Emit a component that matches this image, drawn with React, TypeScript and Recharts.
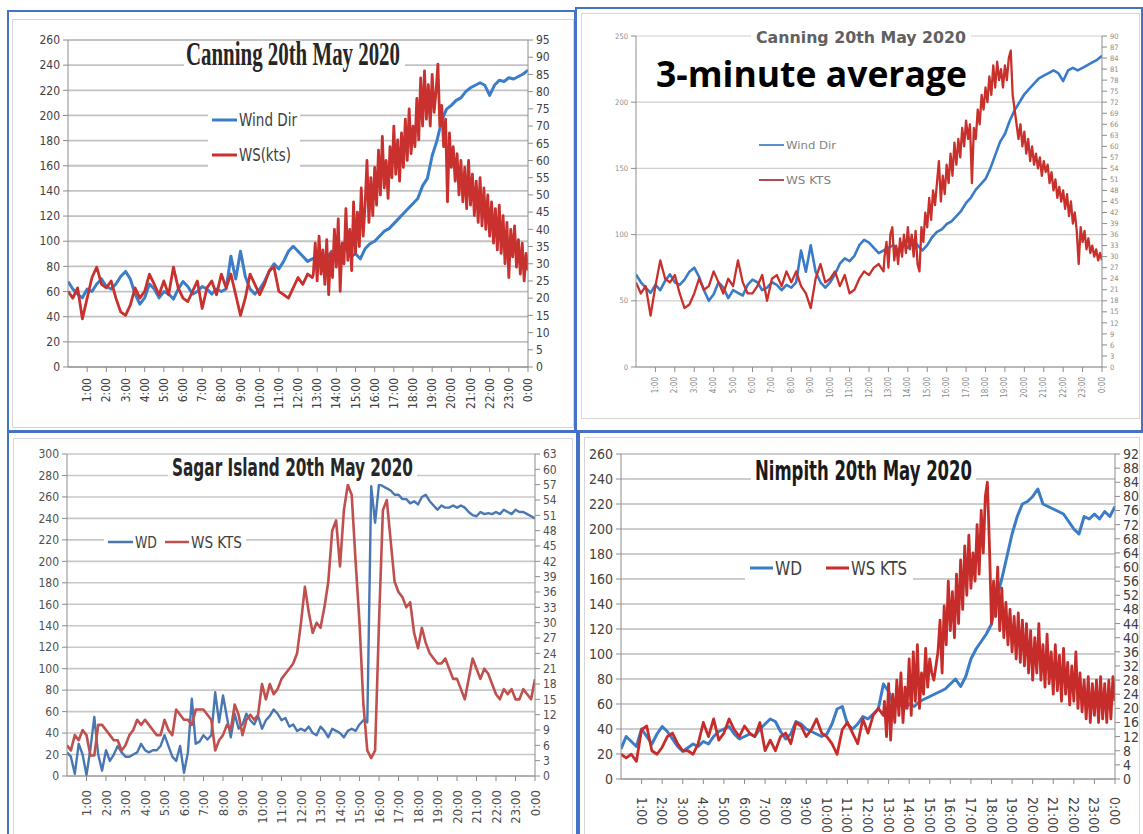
import React from 'react'
import { LineChart, Line, XAxis, YAxis, CartesianGrid } from 'recharts'

// hour ticks shared by the four charts (24 -> 0:00 next day)
const hourTicks = [1, 2, 3, 4, 5, 6, 7, 8, 9, 10, 11, 12, 13, 14, 15, 16, 17, 18, 19, 20, 21, 22, 23, 24]
const hourLabels = ['1:00', '2:00', '3:00', '4:00', '5:00', '6:00', '7:00', '8:00', '9:00', '10:00', '11:00', '12:00',
  '13:00', '14:00', '15:00', '16:00', '17:00', '18:00', '19:00', '20:00', '21:00', '22:00', '23:00', '0:00']

const canningLeftTicks = [0, 20, 40, 60, 80, 100, 120, 140, 160, 180, 200, 220, 240, 260]
const canningRightTicks = [0, 5, 10, 15, 20, 25, 30, 35, 40, 45, 50, 55, 60, 65, 70, 75, 80, 85, 90, 95]
const avgLeftTicks = [0, 50, 100, 150, 200, 250]
const avgRightTicks = [0, 3, 6, 9, 12, 15, 18, 21, 24, 27, 30, 33, 36, 39, 42, 45, 48, 51, 54, 57, 60, 63, 66, 69, 72, 75, 78, 81, 84, 87, 90]
const sagarLeftTicks = [0, 20, 40, 60, 80, 100, 120, 140, 160, 180, 200, 220, 240, 260, 280, 300]
const sagarRightTicks = [0, 3, 6, 9, 12, 15, 18, 21, 24, 27, 30, 33, 36, 39, 42, 45, 48, 51, 54, 57, 60, 63]
const nimpithLeftTicks = [0, 20, 40, 60, 80, 100, 120, 140, 160, 180, 200, 220, 240, 260]
const nimpithRightTicks = [0, 4, 8, 12, 16, 20, 24, 28, 32, 36, 40, 44, 48, 52, 56, 60, 64, 68, 72, 76, 80, 84, 88, 92]

// Canning - wind direction, every 15 min from 0:00 to 24:00
const canningWd = [68, 62, 58, 55, 62, 60, 66, 70, 64, 62, 66, 72, 76, 70, 58, 50, 55, 66, 62, 55,
  60, 58, 54, 62, 68, 64, 58, 60, 64, 62, 58, 62, 60, 62, 88, 70, 92, 72, 62, 58,
  62, 68, 76, 82, 78, 84, 92, 96, 92, 88, 84, 86, 88, 90, 86, 92, 90, 96, 94, 88,
  90, 86, 94, 98, 100, 104, 108, 110, 114, 118, 122, 126, 130, 134, 144, 150, 168, 180, 196, 205,
  208, 212, 214, 219, 222, 224, 226, 224, 216, 224, 228, 227, 230, 229, 231, 233, 236]
// Canning - wind speed (kts), 15 min to 12:45, then ~6 min to 24:00
const canningWsAm = [22, 20, 23, 14, 20, 26, 29, 24, 23, 25, 20, 16, 15, 18, 23, 20, 22, 27, 24, 21,
  25, 21, 29, 23, 20, 19, 22, 25, 17, 23, 25, 21, 27, 23, 27, 21, 15, 20, 27, 24,
  21, 24, 28, 29, 22, 21, 20, 23, 26, 24, 27, 26]
const canningWsPm = [27, 36, 25, 38, 27, 34, 24, 37, 21, 33, 26, 40, 29, 43, 22, 36, 30, 46, 31, 40,
  28, 48, 33, 45, 35, 52, 38, 47, 60, 42, 55, 44, 58, 47, 63, 50, 67, 52, 60, 49,
  64, 55, 70, 56, 66, 54, 68, 58, 72, 60, 75, 62, 70, 64, 78, 66, 84, 70, 86, 72,
  82, 70, 85, 74, 80, 88, 70, 76, 64, 72, 48, 68, 58, 64, 54, 62, 50, 60, 48, 58,
  46, 60, 47, 56, 44, 54, 42, 55, 41, 52, 40, 50, 38, 48, 36, 46, 34, 47, 33, 44,
  30, 42, 26, 40, 32, 41, 29, 37, 27, 36, 25, 33, 28]

// Canning 3-minute average
const avgWd = [70, 64, 60, 56, 62, 58, 65, 70, 64, 62, 66, 72, 75, 68, 58, 50, 55, 64, 60, 52,
  58, 56, 54, 62, 66, 64, 58, 60, 64, 62, 58, 62, 60, 64, 88, 72, 92, 72, 64, 60,
  64, 70, 78, 82, 80, 84, 92, 96, 94, 90, 86, 88, 90, 92, 88, 94, 90, 96, 92, 88,
  92, 98, 102, 104, 108, 110, 114, 118, 124, 128, 134, 138, 142, 150, 160, 170, 176, 186, 194, 200,
  206, 210, 214, 218, 220, 222, 224, 222, 216, 224, 226, 224, 226, 228, 230, 232, 235]
const avgWsAm = [23, 20, 22, 14, 22, 29, 24, 23, 25, 20, 16, 17, 20, 24, 21, 22, 26, 23, 20, 24,
  22, 29, 23, 20, 20, 22, 25, 18, 24, 25, 22, 26, 23, 26, 22, 20, 16, 24, 28, 23,
  24, 26, 22, 25, 20, 21, 24, 26, 25, 27, 28, 26]
const avgWsPm = [30, 34, 27, 36, 38, 29, 33, 28, 35, 30, 36, 31, 38, 32, 36, 30, 37, 28, 26, 38,
  34, 42, 38, 46, 40, 48, 44, 50, 56, 45, 52, 47, 55, 50, 58, 52, 61, 55, 62, 57,
  65, 60, 67, 62, 66, 50, 65, 62, 70, 66, 74, 70, 76, 72, 79, 74, 82, 76, 83, 78,
  81, 76, 82, 78, 84, 86, 74, 70, 66, 62, 66, 60, 64, 58, 62, 56, 60, 55, 58, 54,
  57, 52, 56, 53, 55, 50, 53, 48, 51, 46, 49, 45, 48, 43, 47, 41, 45, 39, 42, 37,
  28, 38, 34, 37, 32, 35, 31, 33, 30, 32, 29, 31, 29]

// Sagar Island - every 12 min from 0:00 to 24:00
const sagarWd = [22, 18, 2, 30, 20, 1, 25, 55, 20, 5, 24, 14, 20, 28, 22, 18, 18, 20, 22, 30,
  24, 22, 24, 24, 28, 38, 28, 18, 14, 28, 3, 22, 72, 30, 32, 38, 34, 38, 78, 50,
  75, 55, 36, 58, 44, 48, 58, 52, 48, 56, 44, 52, 56, 62, 58, 52, 54, 46, 48, 42,
  44, 42, 46, 40, 38, 46, 42, 36, 44, 42, 40, 36, 42, 44, 42, 48, 52, 50, 270, 236,
  272, 270, 268, 266, 262, 262, 258, 258, 254, 256, 253, 260, 262, 256, 252, 248, 252, 250, 250, 252,
  250, 252, 250, 246, 243, 242, 246, 244, 245, 244, 246, 244, 248, 246, 244, 248, 246, 246, 244, 242, 240]
const sagarWs = [6, 5, 8, 7, 9, 8, 4, 4, 10, 10, 9, 8, 7, 7, 5, 6, 8, 9, 11, 10,
  11, 10, 9, 8, 8, 11, 9, 8, 13, 12, 11, 11, 10, 13, 13, 13, 12, 11, 5, 7,
  8, 10, 9, 14, 12, 8, 11, 12, 11, 12, 18, 15, 18, 16, 17, 19, 20, 21, 22, 24,
  30, 37, 32, 28, 30, 29, 33, 38, 48, 50, 41, 52, 57, 55, 42, 30, 14, 5, 3.5, 5,
  30, 52, 54, 46, 38, 36, 35, 33, 34, 28, 25, 29, 26, 24, 23, 22, 22, 23, 21, 19,
  19, 17, 15, 19, 23, 21, 19, 21, 20, 18, 16, 15, 17, 16, 17, 15, 15, 17, 16, 15, 19]

// Nimpith
const nimpithWd = [24, 34, 30, 26, 40, 34, 28, 36, 42, 38, 32, 26, 22, 25, 28, 26, 30, 28, 34, 38,
  40, 42, 36, 32, 34, 36, 34, 40, 44, 48, 46, 38, 32, 36, 46, 44, 40, 38, 36, 34,
  36, 44, 56, 58, 44, 40, 44, 50, 48, 52, 56, 76, 70, 58, 62, 56, 60, 58, 62, 64,
  66, 68, 70, 72, 76, 80, 74, 82, 96, 104, 110, 116, 124, 145, 160, 178, 196, 210, 220, 222,
  226, 232, 220, 218, 216, 214, 212, 206, 200, 196, 210, 208, 212, 208, 214, 210, 218]
const nimpithWsAm = [7, 6, 7, 5, 14, 15, 8, 7, 9, 12, 13, 10, 8, 8, 7, 10, 16, 12, 17, 11,
  13, 17, 14, 12, 15, 13, 12, 16, 8, 11, 8, 12, 13, 10, 16, 15, 12, 14, 17, 13,
  12, 10, 7, 14, 16, 13, 10, 17, 13, 18, 20, 18]
const nimpithWsPm = [22, 12, 27, 11, 24, 16, 28, 18, 30, 16, 26, 20, 34, 18, 36, 22, 38, 20, 30, 24,
  37, 26, 34, 30, 28, 32, 36, 45, 30, 49, 38, 56, 42, 53, 40, 58, 44, 62, 48, 66,
  52, 69, 54, 64, 56, 72, 58, 76, 64, 80, 84, 66, 44, 56, 46, 60, 42, 54, 40, 50,
  38, 48, 36, 46, 34, 47, 33, 45, 32, 44, 30, 42, 28, 40, 30, 44, 28, 38, 26, 41,
  27, 36, 24, 38, 25, 35, 22, 37, 24, 33, 21, 32, 22, 36, 20, 30, 19, 28, 17, 29,
  16, 27, 18, 28, 16, 29, 17, 27, 16, 28, 17, 29, 22]

// spread a run of readings evenly between two clock times (hours)
const spread = (from: number, to: number, vals: number[]) =>
  vals.map((v, i) => ({ t: from + ((to - from) * i) / (vals.length - 1), v }))

const narrow = "'Liberation Sans Narrow', 'DejaVu Sans Condensed', 'Liberation Sans', sans-serif"

const panels = [
  {
    key: 'canning',
    box: { left: 10, top: 12, width: 562, height: 416 },
    plot: { left: 68, top: 40, right: 528, bottom: 367 },
    leftW: 44, rightW: 40, xH: 55,
    leftTicks: canningLeftTicks, rightTicks: canningRightTicks,
    wd: spread(0, 24, canningWd),
    ws: [...spread(0, 12.75, canningWsAm), ...spread(12.8, 24, canningWsPm)],
    blue: '#3b7dc8', red: '#c8312d', blueW: 3, redW: 2.8,
    tickSize: 12, tickFill: '#404040', xAngle: -90, xDy: 4, xSize: 12,
    grid: '#c2c2c2', gridW: 1.8,
  },
  {
    key: 'avg',
    box: { left: 580, top: 12, width: 560, height: 416 },
    plot: { left: 636, top: 36, right: 1102, bottom: 367 },
    leftW: 40, rightW: 32, xH: 55,
    leftTicks: avgLeftTicks, rightTicks: avgRightTicks,
    wd: spread(0, 24, avgWd),
    ws: [...spread(0, 12.75, avgWsAm), ...spread(12.8, 24, avgWsPm)],
    blue: '#3a7bc8', red: '#c8302c', blueW: 2.6, redW: 2.3,
    tickSize: 7.5, tickFill: '#8c8c8c', xAngle: -90, xDy: 3, xSize: 8,
    grid: '#cfcfcf', gridW: 1.2,
  },
  {
    key: 'sagar',
    box: { left: 12, top: 440, width: 562, height: 392 },
    plot: { left: 67, top: 454, right: 535, bottom: 776 },
    leftW: 44, rightW: 34, xH: 50,
    leftTicks: sagarLeftTicks, rightTicks: sagarRightTicks,
    wd: spread(0, 24, sagarWd),
    ws: spread(0, 24, sagarWs),
    blue: '#4877b3', red: '#c0504d', blueW: 2.4, redW: 2.6,
    tickSize: 12, tickFill: '#505050', xAngle: -90, xDy: 7, xSize: 13,
    grid: '#c8c8c8', gridW: 1.6,
  },
  {
    key: 'nimpith',
    box: { left: 582, top: 440, width: 558, height: 392 },
    plot: { left: 621, top: 454, right: 1115, bottom: 779 },
    leftW: 36, rightW: 25, xH: 50,
    leftTicks: nimpithLeftTicks, rightTicks: nimpithRightTicks,
    wd: spread(0, 24, nimpithWd),
    ws: [...spread(0, 12.75, nimpithWsAm), ...spread(12.8, 24, nimpithWsPm)],
    blue: '#3a7cc6', red: '#c62d2a', blueW: 3, redW: 2.8,
    tickSize: 14, tickFill: '#404040', xAngle: 90, xDy: 11, xSize: 14,
    grid: '#bdbdbd', gridW: 1.6,
  },
]

const frames = [
  { left: 7, top: 10, width: 569, height: 422 },
  { left: 575, top: 7, width: 568, height: 425 },
  { left: 7, top: 431, width: 571, height: 410 },
  { left: 578, top: 431, width: 567, height: 410 },
]
const chartAreas = [
  { left: 12, top: 19, width: 562, height: 409 },
  { left: 581, top: 13, width: 559, height: 406 },
  { left: 13, top: 438, width: 560, height: 400 },
  { left: 584, top: 437, width: 556, height: 400 },
]

function HourTick({ x, y, payload, angle, dy, size, fill }: any) {
  const i = hourTicks.indexOf(payload.value)
  const ty = y + dy
  return (
    <text x={x} y={ty} transform={`rotate(${angle} ${x} ${ty})`}
      textAnchor={angle < 0 ? 'end' : 'start'} dominantBaseline="central"
      fontSize={size} fill={fill} fontFamily={narrow}>
      {hourLabels[i]}
    </text>
  )
}

function Panel({ p }: { p: any }) {
  const { box, plot } = p
  const margin = {
    top: plot.top - box.top,
    left: plot.left - box.left - p.leftW,
    right: box.left + box.width - plot.right - p.rightW,
    bottom: box.top + box.height - plot.bottom - p.xH,
  }
  const tickStyle = { fontSize: p.tickSize, fill: p.tickFill, fontFamily: narrow }
  return (
    <div style={{ position: 'absolute', left: box.left, top: box.top }}>
      <LineChart width={box.width} height={box.height} margin={margin}>
        <CartesianGrid yAxisId="l" vertical={false} stroke={p.grid} strokeWidth={p.gridW} />
        <XAxis dataKey="t" type="number" domain={[0, 24]} ticks={hourTicks} interval={0}
          allowDataOverflow height={p.xH} stroke="#8c8c8c" tickSize={5}
          tick={(tp: any) => <HourTick {...tp} angle={p.xAngle} dy={p.xDy} size={p.xSize} fill={p.tickFill} />} />
        <YAxis yAxisId="l" domain={[0, p.leftTicks[p.leftTicks.length - 1]]} ticks={p.leftTicks}
          interval={0} allowDataOverflow width={p.leftW} stroke="#8c8c8c" tickSize={5} tickMargin={3} tick={tickStyle} />
        <YAxis yAxisId="r" orientation="right" domain={[0, p.rightTicks[p.rightTicks.length - 1]]}
          ticks={p.rightTicks} interval={0} allowDataOverflow width={p.rightW} stroke="#8c8c8c"
          tickSize={5} tickMargin={3} tick={tickStyle} />
        <Line yAxisId="l" data={p.wd} dataKey="v" type="linear" dot={false} stroke={p.blue}
          strokeWidth={p.blueW} strokeLinejoin="round" isAnimationActive={false} />
        <Line yAxisId="r" data={p.ws} dataKey="v" type="linear" dot={false} stroke={p.red}
          strokeWidth={p.redW} strokeLinejoin="round" isAnimationActive={false} />
      </LineChart>
    </div>
  )
}

function LegendItem({ x, y, w, color, lw, label, size, len, fill }: any) {
  return (
    <g>
      <line x1={x} x2={x + w} y1={y} y2={y} stroke={color} strokeWidth={lw} />
      <text x={x + w + 2} y={y + size * 0.36} fontSize={size} fill={fill} fontFamily={narrow}
        textLength={len} lengthAdjust="spacingAndGlyphs">{label}</text>
    </g>
  )
}

export default function App() {
  return (
    <div style={{ position: 'absolute', left: 0, top: 0, width: 1143, height: 834, overflow: 'hidden', background: '#fff' }}>
      {chartAreas.map((a, i) => (
        <div key={'a' + i} style={{ position: 'absolute', ...a, border: '1px solid #d6d6d6', boxSizing: 'border-box' }} />
      ))}
      {panels.map((p) => <Panel key={p.key} p={p} />)}
      {frames.map((f, i) => (
        <div key={'f' + i} style={{ position: 'absolute', ...f, border: '2px solid #4472c4', boxSizing: 'border-box' }} />
      ))}
      <svg width={1143} height={834} style={{ position: 'absolute', left: 0, top: 0 }}>
        {/* Canning */}
        <rect x={184} y={43} width={221} height={28} fill="#fff" />
        <text x={186} y={65} fontSize={34} fontWeight="bold" fill="#262626"
          fontFamily="'Liberation Serif', 'DejaVu Serif', serif" textLength={214} lengthAdjust="spacingAndGlyphs">
          Canning 20th  May 2020
        </text>
        <rect x={208} y={107} width={92} height={64} fill="#fff" />
        <LegendItem x={212} y={120} w={25} color="#3b7dc8" lw={3} label="Wind Dir" size={18} len={58} fill="#404040" />
        <LegendItem x={212} y={155} w={25} color="#c8312d" lw={3} label="WS(kts)" size={18} len={52} fill="#404040" />

        {/* Canning 3-minute average */}
        <rect x={751} y={30} width={220} height={17} fill="#fff" />
        <text x={756} y={43} fontSize={15} fontWeight="bold" fill="#606060" fontFamily={narrow}
          textLength={210} lengthAdjust="spacingAndGlyphs">Canning  20th May 2020</text>
        <text x={656} y={87} fontSize={35} fontWeight="bold" fill="#000"
          fontFamily="'Open Sans', 'Liberation Sans', sans-serif" textLength={311} lengthAdjust="spacingAndGlyphs">
          3-minute average
        </text>
        <LegendItem x={759} y={145} w={25} color="#5b8fd0" lw={2} label="Wind Dir" size={10} len={50} fill="#7f7f7f" />
        <LegendItem x={759} y={180} w={25} color="#b24a55" lw={2} label="WS KTS" size={10} len={45} fill="#7f7f7f" />

        {/* Sagar Island */}
        <rect x={168} y={457} width={249} height={27} fill="#fff" />
        <text x={172} y={476} fontSize={25} fontWeight="bold" fill="#262626" fontFamily={narrow}
          textLength={241} lengthAdjust="spacingAndGlyphs">Sagar Island 20th May 2020</text>
        <rect x={104} y={533} width={142} height={20} fill="#fff" />
        <LegendItem x={108} y={542} w={25} color="#4877b3" lw={2.5} label="WD" size={16} len={22} fill="#404040" />
        <LegendItem x={165} y={542} w={24} color="#c0504d" lw={2.5} label="WS KTS" size={16} len={51} fill="#404040" />

        {/* Nimpith */}
        <rect x={751} y={458} width={225} height={31} fill="#fff" />
        <text x={755} y={480} fontSize={27} fontWeight="bold" fill="#1a1a1a" fontFamily={narrow}
          textLength={217} lengthAdjust="spacingAndGlyphs">Nimpith 20th May 2020</text>
        <rect x={745} y={556} width={168} height={26} fill="#fff" />
        <LegendItem x={750} y={568} w={23} color="#3a7cc6" lw={3} label="WD" size={20} len={27} fill="#404040" />
        <LegendItem x={826} y={568} w={23} color="#c62d2a" lw={3} label="WS KTS" size={20} len={56} fill="#404040" />
      </svg>
    </div>
  )
}
